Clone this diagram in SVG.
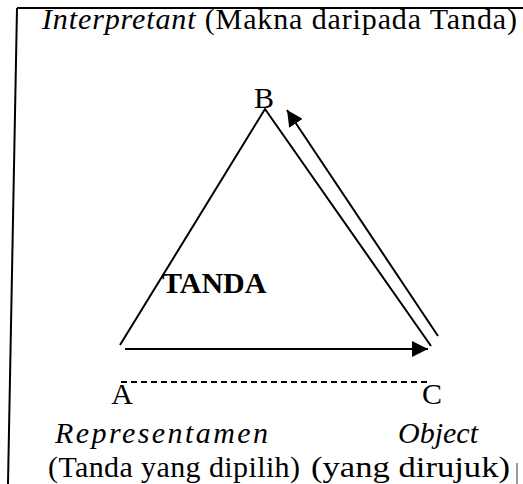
<svg xmlns="http://www.w3.org/2000/svg" width="523" height="484" viewBox="0 0 523 484">
<style>
text{font-family:'Liberation Serif','Times New Roman','DejaVu Serif',serif;font-size:30px;fill:#000}
.it{font-style:italic}
.b{font-weight:bold}
.ln{stroke:#000;stroke-width:2;fill:none}
</style>
<defs>
<marker id="ah" markerUnits="userSpaceOnUse" markerWidth="18" markerHeight="16" refX="16" refY="8" orient="auto">
<path d="M0,0 L16,8 L0,16 Z" fill="#000"/>
</marker>
</defs>
<g id="frame">
<path d="M17,8 L523,8" class="ln" stroke-width="1.5"/>
<path d="M17,8 L8,484" class="ln" stroke-width="1.5"/>
<path d="M517,463 L517,484" stroke="#999" stroke-width="2"/>
</g>
<g id="title"><text x="42" y="29" textLength="475"><tspan class="it">Interpretant</tspan> (Makna daripada Tanda)</text></g>
<g id="connectors">
<path d="M120,345 L265,109 L431,346" class="ln"/>
<path d="M125,349 L428,349" class="ln" marker-end="url(#ah)"/>
<path d="M438,336 L287,110" class="ln" marker-end="url(#ah)"/>
<path d="M121,382 L428,382" class="ln" stroke-dasharray="6,4"/>
</g>
<g id="nodeB"><text x="264" y="108" text-anchor="middle">B</text></g>
<g id="nodeTanda"><text x="162" y="293" class="b">TANDA</text></g>
<g id="nodeA">
<text x="122" y="404" text-anchor="middle">A</text>
<text x="55" y="443" class="it" textLength="213">Representamen</text>
<text x="48" y="477" textLength="252">(Tanda yang dipilih)</text>
</g>
<g id="nodeC">
<text x="432" y="404" text-anchor="middle">C</text>
<text x="398" y="443" class="it">Object</text>
<text x="311" y="477" font-size="31" textLength="199" lengthAdjust="spacingAndGlyphs">(yang dirujuk)</text>
</g>
</svg>
